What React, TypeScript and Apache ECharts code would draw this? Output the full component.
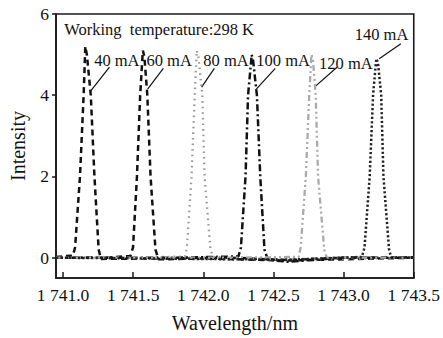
import React, { useEffect, useRef } from "react";
import * as echarts from "echarts";

// ---- data ----
const seriesNames = ["40 mA", "60 mA", "80 mA", "100 mA", "120 mA", "140 mA"];

const s40: number[][] = [
  [1740.95, 0.02], [1741.02, 0.04], [1741.07, 0.05], [1741.086, 0.25], [1741.121, 2.0], [1741.147, 4.0],
  [1741.159, 5.2], [1741.17, 5.0], [1741.198, 4.0], [1741.224, 2.0], [1741.254, 0.2], [1741.27, -0.03],
  [1741.6, -0.02], [1742.2, 0.0], [1742.6, -0.06], [1743.0, 0.0], [1743.5, 0.01],
];
const s60: number[][] = [
  [1740.95, 0.0], [1741.3, 0.0], [1741.48, 0.04], [1741.499, 0.25], [1741.527, 2.0], [1741.55, 4.0],
  [1741.569, 5.1], [1741.58, 4.95], [1741.601, 4.0], [1741.624, 2.0], [1741.659, 0.2], [1741.68, -0.04],
  [1742.0, -0.02], [1742.6, -0.07], [1743.5, 0.0],
];
const s80: number[][] = [
  [1740.95, 0.0], [1741.5, 0.0], [1741.87, 0.03], [1741.883, 0.25], [1741.916, 2.0], [1741.939, 4.0],
  [1741.953, 5.1], [1741.965, 4.95], [1741.993, 4.0], [1742.009, 2.0], [1742.051, 0.2], [1742.07, 0.02],
  [1742.6, -0.05], [1743.5, 0.0],
];
const s100: number[][] = [
  [1740.95, 0.0], [1741.8, 0.0], [1742.25, 0.03], [1742.268, 0.25], [1742.301, 2.0], [1742.319, 4.0],
  [1742.345, 5.0], [1742.355, 4.85], [1742.382, 4.0], [1742.406, 2.0], [1742.436, 0.2], [1742.46, -0.05],
  [1742.6, -0.1], [1743.0, 0.0], [1743.5, 0.0],
];
const s120: number[][] = [
  [1740.95, 0.0], [1742.2, 0.0], [1742.68, 0.02], [1742.694, 0.25], [1742.731, 2.0], [1742.755, 4.0],
  [1742.771, 5.0], [1742.782, 4.85], [1742.801, 4.0], [1742.818, 2.0], [1742.862, 0.2], [1742.88, 0.0],
  [1743.5, 0.0],
];
const s140: number[][] = [
  [1740.95, 0.0], [1742.6, -0.05], [1743.13, 0.02], [1743.149, 0.25], [1743.186, 2.0], [1743.21, 4.0],
  [1743.233, 4.9], [1743.245, 4.8], [1743.268, 4.0], [1743.284, 2.0], [1743.324, 0.2], [1743.34, 0.0],
  [1743.5, 0.0],
];
const seriesData = [s40, s60, s80, s100, s120, s140];

const xTicks = [1741.0, 1741.5, 1742.0, 1742.5, 1743.0, 1743.5];
const xTickLabels = ["1 741.0", "1 741.5", "1 742.0", "1 742.5", "1 743.0", "1 743.5"];
const yTicks = [0, 2, 4, 6];

const titleText = "Working  temperature:298 K";
const titleCoord = [1741.009, 5.63];
// label anchor (left, middle) per series, in data coordinates
const labelCoords: number[][] = [
  [1741.222, 4.86], [1741.595, 4.86], [1742.0, 4.86], [1742.378, 4.86], [1742.825, 4.78], [1743.079, 5.5],
];
// leader lines: [x1, y1, x2, y2]
const leaderLines: number[][] = [
  [1741.331, 4.69, 1741.198, 4.11],
  [1741.715, 4.66, 1741.603, 4.15],
  [1742.079, 4.66, 1741.988, 4.2],
  [1742.513, 4.66, 1742.373, 4.13],
  [1742.953, 4.69, 1742.792, 4.2],
  [1743.408, 5.27, 1743.254, 4.9],
];

const FONT = "Times New Roman, Liberation Serif, DejaVu Serif, serif";

const lineStyles = [
  { color: "#111", width: 2.5, type: [6, 4] },
  { color: "#111", width: 2.5, type: [6, 4] },
  { color: "#9a9a9a", width: 2.3, type: [1.6, 4] },
  { color: "#111", width: 2.5, type: [7, 3, 2, 3] },
  { color: "#aaaaaa", width: 2.3, type: [6, 3, 2, 3, 2, 3] },
  { color: "#222", width: 2.5, type: [2.2, 2.2] },
];

export default function App() {
  const ref = useRef<HTMLDivElement>(null);
  useEffect(() => {
    if (!ref.current) return;
    const chart = echarts.init(ref.current, undefined, { renderer: "svg" });
    chart.setOption({
      animation: false,
      backgroundColor: "#fff",
      textStyle: { fontFamily: FONT },
      grid: { left: 53, right: 25, top: 14, bottom: 57, show: true, borderColor: "#1a1a1a", borderWidth: 1.6 },
      xAxis: {
        type: "value",
        min: 1740.95,
        max: 1743.5,
        name: "Wavelength/nm",
        nameLocation: "middle",
        nameGap: 35,
        nameTextStyle: { fontFamily: FONT, fontSize: 20, color: "#111" },
        axisLine: { show: true, onZero: false, lineStyle: { color: "#1a1a1a", width: 1.6 } },
        axisTick: { show: true, inside: true, length: 6, customValues: xTicks, lineStyle: { color: "#1a1a1a", width: 1.5 } },
        axisLabel: {
          customValues: xTicks,
          fontFamily: FONT,
          fontSize: 17.5,
          color: "#111",
          margin: 8,
          formatter: (v: number) => {
            const i = xTicks.findIndex((t) => Math.abs(t - v) < 1e-6);
            return i >= 0 ? xTickLabels[i] : "";
          },
        },
        splitLine: { show: false },
      },
      yAxis: {
        type: "value",
        min: -0.5,
        max: 6,
        name: "Intensity",
        nameLocation: "middle",
        nameGap: 28,
        nameTextStyle: { fontFamily: FONT, fontSize: 20, color: "#111" },
        axisLine: { show: true, onZero: false, lineStyle: { color: "#1a1a1a", width: 1.6 } },
        axisTick: { show: true, inside: false, length: 4, customValues: yTicks, lineStyle: { color: "#1a1a1a", width: 1.5 } },
        axisLabel: { customValues: yTicks, fontFamily: FONT, fontSize: 17.5, color: "#111", margin: 7 },
        splitLine: { show: false },
      },
      series: seriesData.map((d, i) => ({
        type: "line",
        name: seriesNames[i],
        data: d,
        showSymbol: false,
        symbol: "none",
        lineStyle: lineStyles[i],
        z: 2 + i,
      })),
    });

    const px = (c: number[]) => chart.convertToPixel({ gridIndex: 0 }, c) as number[];
    const graphics: any[] = [];
    const tp = px(titleCoord);
    graphics.push({
      type: "text",
      x: tp[0],
      y: tp[1],
      style: { text: titleText, fontFamily: FONT, fontSize: 16.5, fill: "#111", align: "left", verticalAlign: "middle" },
    });
    labelCoords.forEach((c, i) => {
      const p = px(c);
      graphics.push({
        type: "text",
        x: p[0],
        y: p[1],
        style: { text: seriesNames[i], fontFamily: FONT, fontSize: 16.5, fill: "#111", align: "left", verticalAlign: "middle" },
      });
    });
    leaderLines.forEach((l) => {
      const a = px([l[0], l[1]]);
      const b = px([l[2], l[3]]);
      graphics.push({
        type: "line",
        shape: { x1: a[0], y1: a[1], x2: b[0], y2: b[1] },
        style: { stroke: "#111", lineWidth: 1.2 },
      });
    });
    chart.setOption({ graphic: graphics });

    return () => chart.dispose();
  }, []);
  return <div ref={ref} style={{ width: 443, height: 338, position: "absolute", left: 0, top: 0 }} />;
}
